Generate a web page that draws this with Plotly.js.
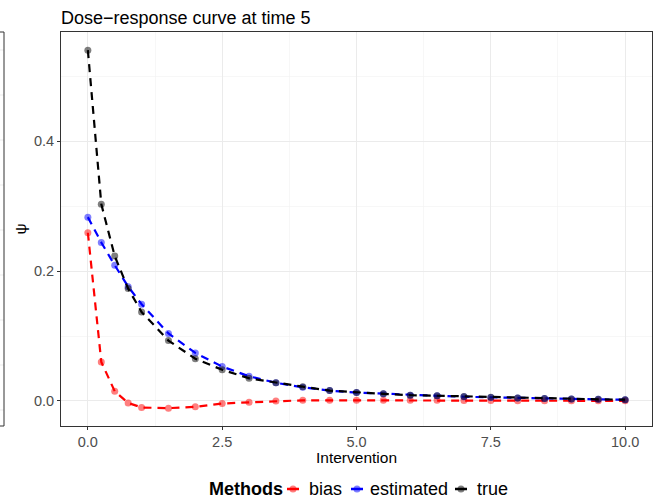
<!DOCTYPE html>
<html>
<head>
<meta charset="utf-8">
<script src="https://cdn.plot.ly/plotly-3.0.1.min.js"></script>
<style>html,body{margin:0;padding:0;background:#fff;}#chart{width:659px;height:501px;}</style>
</head>
<body>
<div id="chart"></div>
<script>
const xVals = [0,0.25,0.5,0.75,1,1.5,2,2.5,3,3.5,4,4.5,5,5.5,6,6.5,7,7.5,8,8.5,9,9.5,10];
const trueVals = [0.540,0.303,0.223,0.173,0.137,0.093,0.065,0.048,0.035,0.028,0.022,0.016,0.013,0.011,0.009,0.008,0.007,0.0056,0.0046,0.0038,0.0031,0.0026,0.002];
const estVals = [0.283,0.244,0.209,0.176,0.149,0.104,0.074,0.053,0.038,0.028,0.021,0.016,0.013,0.011,0.009,0.008,0.0065,0.0055,0.0045,0.0037,0.003,0.0025,0.002];
const biasVals = [0.259,0.060,0.015,-0.003,-0.010,-0.011,-0.009,-0.004,-0.002,0.000,0.001,0.001,0.001,0.001,0.001,0.001,0.0008,0.0006,0.0005,0.0004,0.0003,0.0002,0.0002];
const seriesNames = ['bias','estimated','true'];
const seriesColors = ['#FF0000','#0000FF','#000000'];
const xTickVals = [0,2.5,5,7.5,10];
const xTickText = ['0.0','2.5','5.0','7.5','10.0'];
const yTickVals = [0,0.2,0.4];
const yTickText = ['0.0','0.2','0.4'];
const legendTitle = 'Methods';
const xTitle = 'Intervention';

const FONT = 'Liberation Sans, Arial, Helvetica, sans-serif';
const seriesVals = [biasVals, estVals, trueVals];

const traces = seriesNames.map((n,i)=>({
  type:'scatter', mode:'lines+markers', name:n,
  x:xVals, y:seriesVals[i],
  line:{color:seriesColors[i], width:2.2, dash:'8px,6px'},
  marker:{color:seriesColors[i], size:7, opacity:0.5},
  cliponaxis:false, showlegend:false
}));

const W = 659, H = 501;
const px = v => (v-61)/591;
const py = v => (426-v)/394;
const shapes = [];
const annotations = [];

// sliver of neighbouring panel at far left
for (let g=50; g<=410; g+=45) {
  shapes.push({type:'line', xref:'paper', yref:'paper', x0:px(0), x1:px(4), y0:py(g), y1:py(g), line:{color:'#EBEBEB', width:1}});
}
shapes.push({type:'rect', xref:'paper', yref:'paper', x0:px(-5), x1:px(4), y0:py(426), y1:py(32), line:{color:'#333333', width:1}, fillcolor:'rgba(0,0,0,0)'});

// x axis title placed like ggplot
annotations.push({xref:'paper', yref:'paper', x:0.5, y:py(457), xanchor:'center', yanchor:'middle', showarrow:false,
  height:15, valign:'middle',
  text:xTitle, font:{family:FONT, size:15.5, color:'#000'}});

// legend (ggplot-style, bottom, horizontal)
const legY = 489;
annotations.push({xref:'paper', yref:'paper', x:px(207), y:py(legY), xanchor:'left', yanchor:'middle', showarrow:false,
  text:'<b>'+legendTitle+'</b>', font:{family:FONT, size:18, color:'#000'}});
const keyCenters = [293, 357, 461];
const labelLefts = [307, 368, 475];
seriesNames.forEach((n,i)=>{
  const c = keyCenters[i];
  shapes.push({type:'line', xref:'paper', yref:'paper', x0:px(c-6), x1:px(c+6), y0:py(legY), y1:py(legY), line:{color:seriesColors[i], width:2.5}});
  shapes.push({type:'circle', xref:'paper', yref:'paper', x0:px(c-3.5), x1:px(c+3.5), y0:py(legY+3.5), y1:py(legY-3.5), line:{width:0}, fillcolor:seriesColors[i], opacity:0.5});
  annotations.push({xref:'paper', yref:'paper', x:px(labelLefts[i]), y:py(legY), xanchor:'left', yanchor:'middle', showarrow:false,
    text:n, font:{family:FONT, size:18, color:'#000'}});
});

const layout = {
  width:W, height:H,
  margin:{l:61, r:7, t:32, b:75},
  paper_bgcolor:'#fff', plot_bgcolor:'#fff',
  font:{family:FONT, color:'#000'},
  title:{text:'Dose\u2212response curve at time 5', font:{family:FONT, size:18, color:'#000'},
         xref:'paper', x:0, xanchor:'left', yref:'container', y:1-18/501, yanchor:'middle'},
  xaxis:{range:[-0.5,10.5], tickvals:xTickVals, ticktext:xTickText,
         ticks:'outside', ticklen:3, tickwidth:1, tickcolor:'#333333',
         tickfont:{family:FONT, size:14.5, color:'#4D4D4D'},
         showgrid:true, gridcolor:'#EBEBEB', gridwidth:1, zeroline:false,
         minor:{tickvals:[1.25,3.75,6.25,8.75], showgrid:true, gridcolor:'#F2F2F2', gridwidth:0.6, ticks:''},
         showline:true, mirror:true, linecolor:'#333333', linewidth:1},
  yaxis:{range:[-0.0385,0.568], tickvals:yTickVals, ticktext:yTickText,
         ticks:'outside', ticklen:3, tickwidth:1, tickcolor:'#333333',
         tickfont:{family:FONT, size:14.5, color:'#4D4D4D'},
         showgrid:true, gridcolor:'#EBEBEB', gridwidth:1, zeroline:false,
         minor:{tickvals:[0.1,0.3,0.5], showgrid:true, gridcolor:'#F2F2F2', gridwidth:0.6, ticks:''},
         showline:true, mirror:true, linecolor:'#333333', linewidth:1,
         title:{text:'\u03C8', font:{family:FONT, size:15.5, color:'#000'}, standoff:3}},
  showlegend:false,
  shapes:shapes,
  annotations:annotations
};

Plotly.newPlot('chart', traces, layout, {displayModeBar:false, staticPlot:true});
</script>
</body>
</html>
